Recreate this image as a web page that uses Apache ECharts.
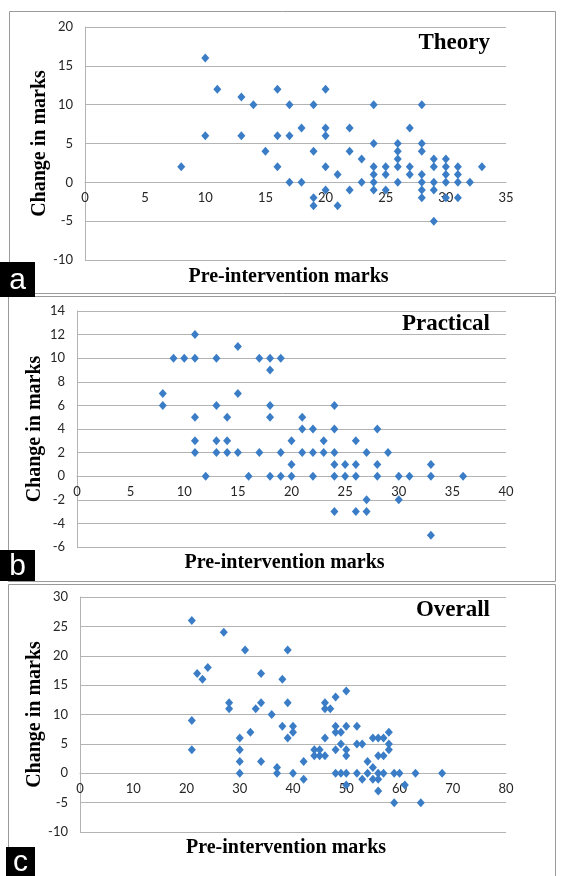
<!DOCTYPE html>
<html>
<head>
<meta charset="utf-8">
<script src="https://cdn.jsdelivr.net/npm/echarts@6/dist/echarts.min.js"></script>
<style>
html,body{margin:0;padding:0;background:#fff;}
#chart{width:562px;height:876px;}
</style>
</head>
<body>
<div id="chart"></div>
<script>
// ---- Data ----
const theoryPre    = [10,11,16,20,13,14,17,19,24,28,18,20,22,27,10,13,16,17,20,24,26,28,15,19,22,26,28,23,26,29,30,8,16,20,24,25,26,27,29,30,31,33,21,24,25,27,28,30,31,17,18,23,24,26,28,29,30,31,32,20,22,24,25,28,29,19,28,30,31,19,21,29];
const theoryChange = [16,12,12,12,11,10,10,10,10,10,7,7,7,7,6,6,6,6,6,5,5,5,4,4,4,4,4,3,3,3,3,2,2,2,2,2,2,2,2,2,2,2,1,1,1,1,1,1,1,0,0,0,0,0,0,0,0,0,0,-1,-1,-1,-1,-1,-1,-2,-2,-2,-2,-3,-3,-5];

const practicalPre    = [11,15,9,10,11,13,17,18,19,18,8,15,8,13,18,24,11,14,18,21,21,22,24,28,11,13,14,20,23,26,11,13,14,15,17,19,21,22,23,24,27,29,20,24,25,26,28,33,12,16,18,19,20,22,24,25,26,28,30,31,33,36,27,30,24,26,27,33];
const practicalChange = [12,11,10,10,10,10,10,10,10,9,7,7,6,6,6,6,5,5,5,5,4,4,4,4,3,3,3,3,3,3,2,2,2,2,2,2,2,2,2,2,2,2,1,1,1,1,1,1,0,0,0,0,0,0,0,0,0,0,0,0,0,0,-2,-2,-3,-3,-3,-5];

const overallPre    = [21,27,31,39,24,22,34,23,38,50,48,28,34,39,46,28,33,46,47,36,21,38,40,48,50,52,32,40,48,49,58,30,39,46,55,56,57,49,52,53,58,21,30,44,45,48,50,58,44,45,46,50,56,57,30,34,42,54,37,55,30,37,40,48,49,50,52,54,56,57,59,60,63,68,42,53,55,56,50,61,56,59,64];
const overallChange = [26,24,21,21,18,17,17,16,16,14,13,12,12,12,12,11,11,11,11,10,9,8,8,8,8,8,7,7,7,7,7,6,6,6,6,6,6,5,5,5,5,4,4,4,4,4,4,4,3,3,3,3,3,3,2,2,2,2,1,1,0,0,0,0,0,0,0,0,0,0,0,0,0,0,-1,-1,-1,-1,-2,-2,-3,-5,-5];

const panelTitles = ['Theory','Practical','Overall'];
const panelLetters = ['a','b','c'];
const xTitle = 'Pre-intervention marks';
const yTitle = 'Change in marks';
// axis ranges: [xMin,xMax,xStep,yMin,yMax,yStep]
const axisRanges = [[0,35,5,-10,20,5],[0,40,5,-6,14,2],[0,80,10,-10,30,5]];

// ---- Layout ----
const grids = [
  {left:85, top:27,  width:421, height:233},
  {left:77, top:311, width:429, height:236},
  {left:80, top:597, width:426, height:235}
];
const yTitleX = [40, 35, 35];
const xTitleY = [277, 563, 848];
const panelTitleY = [43, 324, 610];
const boxes = [[9,11,546,282],[8,296,547,285],[8,584,547,300]];
const letterBoxes = [[0,262,35,35],[0,550,35,31],[6,847,29,29]];

const pairs = (xs, ys) => xs.map((x,i)=>[x, ys[i]]);
const seriesData = [pairs(theoryPre,theoryChange), pairs(practicalPre,practicalChange), pairs(overallPre,overallChange)];

const gridColor = '#b3b3b3';
const labelFont = {color:'#262626', fontFamily:'Lato, "Open Sans", sans-serif', fontSize:13};
const serif = '"Liberation Serif", "Times New Roman", serif';

const xAxes = [], yAxes = [], series = [], graphics = [];
axisRanges.forEach((r,i)=>{
  // place the x axis where y = 0 crosses (axis crosses at zero, as in the reference)
  const zeroOffset = -grids[i].height * (0 - r[3]) / (r[4] - r[3]);
  xAxes.push({
    gridIndex:i, type:'value', min:r[0], max:r[1], interval:r[2],
    position:'bottom', offset:zeroOffset,
    axisLine:{show:true, onZero:false, lineStyle:{color:gridColor, width:1}},
    axisTick:{show:false},
    splitLine:{show:false},
    axisLabel:Object.assign({margin:9}, labelFont)
  });
  yAxes.push({
    gridIndex:i, type:'value', min:r[3], max:r[4], interval:r[5],
    axisLine:{show:true, onZero:false, lineStyle:{color:gridColor, width:1}},
    axisTick:{show:false},
    splitLine:{show:true, lineStyle:{color:gridColor, width:1}},
    axisLabel:Object.assign({margin:12}, labelFont)
  });
  series.push({
    type:'scatter', xAxisIndex:i, yAxisIndex:i,
    symbol:'diamond', symbolSize:[8,9],
    itemStyle:{color:'#3A7DC6', opacity:1},
    data:seriesData[i], z:5, silent:true
  });
});

boxes.forEach(b=>{
  graphics.push({type:'rect', shape:{x:b[0]+0.5,y:b[1]+0.5,width:b[2],height:b[3]}, style:{fill:'none', stroke:'#9a9a9a', lineWidth:1}, z:0});
});
letterBoxes.forEach((b,i)=>{
  graphics.push({type:'rect', shape:{x:b[0],y:b[1],width:b[2],height:b[3]}, style:{fill:'#000'}, z:10});
  graphics.push({type:'text', x:b[0]+b[2]/2, y:b[1]+b[3]/2+1, z:11,
    style:{text:panelLetters[i], fill:'#fff', font:'30px "Liberation Sans", Arial, sans-serif', textAlign:'center', textVerticalAlign:'middle', align:'center', verticalAlign:'middle'}});
});
grids.forEach((g,i)=>{
  graphics.push({type:'text', x:g.left+g.width/2 - 7, y:xTitleY[i], z:10,
    style:{text:xTitle, fill:'#000', font:'bold 20px '+serif, textAlign:'center', textVerticalAlign:'middle', align:'center', verticalAlign:'middle'}});
  graphics.push({type:'text', x:yTitleX[i], y:g.top+g.height/2, rotation:Math.PI/2, z:10,
    style:{text:yTitle, fill:'#000', font:'bold 20px '+serif, textAlign:'center', textVerticalAlign:'middle', align:'center', verticalAlign:'middle'}});
  graphics.push({type:'text', x:490, y:panelTitleY[i], z:10,
    style:{text:panelTitles[i], fill:'#000', font:'bold 23px '+serif, textAlign:'right', textVerticalAlign:'middle', align:'right', verticalAlign:'middle'}});
});

const chart = echarts.init(document.getElementById('chart'), null, {renderer:'canvas'});
chart.setOption({
  animation:false,
  backgroundColor:'#ffffff',
  grid:grids.map(g=>Object.assign({containLabel:false}, g)),
  xAxis:xAxes,
  yAxis:yAxes,
  series:series,
  graphic:graphics
});
</script>
</body>
</html>
